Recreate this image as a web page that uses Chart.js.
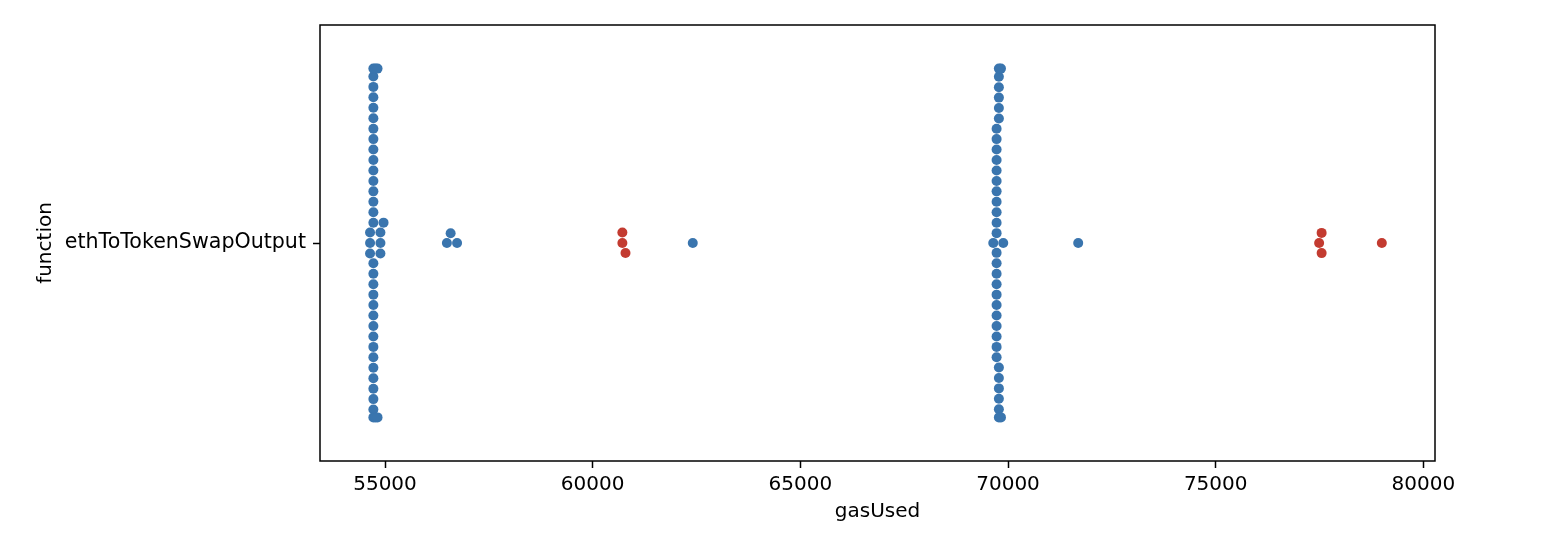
<!DOCTYPE html>
<html>
<head>
<meta charset="utf-8">
<script src="https://cdn.jsdelivr.net/npm/chart.js"></script>
<style>
  html, body { margin: 0; padding: 0; background: #ffffff; }
  #wrap { width: 1550px; height: 542px; position: relative; }
</style>
</head>
<body>
<div id="wrap"><canvas id="c"></canvas></div>
<script>
// ---- data ----
const categories = ['ethToTokenSwapOutput'];
const xTicks = [55000, 60000, 65000, 70000, 75000, 80000];
const xLabel = 'gasUsed';
const yLabel = 'function';

// gasUsed values drawn in blue
const blueGas = [
  54640, 54640, 54640,
  54720, 54720, 54720, 54720, 54720, 54720, 54720, 54720,
  54720, 54720, 54720, 54720, 54720, 54720, 54720, 54720,
  54720, 54720, 54720, 54720, 54720, 54720, 54720, 54720,
  54720, 54720, 54720, 54720, 54720, 54720, 54720, 54720,
  54770, 54770, 54820, 54820,
  54890, 54890, 54890,
  54965,
  56490, 56580, 56735,
  62410,
  69645,
  69725, 69725, 69725, 69725, 69725, 69725, 69725, 69725, 69725, 69725, 69725,
  69725, 69725, 69725, 69725, 69725, 69725, 69725, 69725, 69725, 69725, 69725,
  69780, 69780, 69780, 69780, 69780, 69780,
  69780, 69780, 69780, 69780, 69780, 69780,
  69830, 69830,
  69885,
  71690
];
// gasUsed values drawn in red
const redGas = [60715, 60715, 60790, 77490, 77550, 77550, 79000];

const BLUE = '#3a75ae';
const RED = '#c33b30';
const FONT = "'DejaVu Sans', sans-serif";

// ---- beeswarm (seaborn-style) ----
function beeswarm(items, d) {
  const pts = items.slice().sort((a, b) => a.px - b.px);
  const placed = [];
  for (const p of pts) {
    const nb = placed.filter(q => Math.abs(p.px - q.px) < d);
    let cands = [0];
    let upFirst = true;
    for (const q of nb) {
      const dv = p.px - q.px;
      const o = Math.sqrt(Math.max(d * d - dv * dv, 0)) * 1.05;
      const up = q.off - o, down = q.off + o;
      if (upFirst) cands.push(up, down); else cands.push(down, up);
      upFirst = !upFirst;
    }
    const sorted = cands.map((c, i) => ({ c, i }))
      .sort((a, b) => (Math.abs(a.c) - Math.abs(b.c)) || (a.i - b.i));
    let chosen = sorted[sorted.length - 1].c;
    for (const { c } of sorted) {
      if (nb.every(q => (q.px - p.px) ** 2 + (q.off - c) ** 2 >= d * d - 1e-6)) { chosen = c; break; }
    }
    p.off = chosen;
    placed.push(p);
  }
  return placed;
}

const framePlugin = {
  id: 'frame',
  afterDatasetsDraw(chart) {
    const { ctx, chartArea: a } = chart;
    ctx.save();
    ctx.strokeStyle = '#000';
    ctx.lineWidth = 1.5;
    ctx.strokeRect(a.left, a.top, a.right - a.left, a.bottom - a.top);
    ctx.restore();
  }
};

const chart = new Chart(document.getElementById('c'), {
  type: 'scatter',
  data: {
    datasets: [
      { label: 'blue', data: blueGas.map(v => ({ x: v, y: 0 })), backgroundColor: BLUE, borderWidth: 0, pointRadius: 5, pointHoverRadius: 5 },
      { label: 'red', data: redGas.map(v => ({ x: v, y: 0 })), backgroundColor: RED, borderWidth: 0, pointRadius: 5, pointHoverRadius: 5 }
    ]
  },
  options: {
    responsive: true,
    maintainAspectRatio: false,
    animation: false,
    devicePixelRatio: 1,
    layout: { padding: { left: 0, right: 115, top: 25, bottom: 0 }, autoPadding: false },
    plugins: { legend: { display: false }, tooltip: { enabled: false } },
    scales: {
      x: {
        type: 'linear',
        position: 'bottom',
        min: 53435,
        max: 80280,
        afterBuildTicks: s => { s.ticks = xTicks.map(v => ({ value: v })); },
        afterFit: s => { s.height = 81; },
        ticks: { callback: v => String(v), font: { family: FONT, size: 20 }, color: '#000', padding: 5, maxRotation: 0, autoSkip: false },
        grid: { drawOnChartArea: false, drawTicks: true, tickLength: 7, tickColor: '#000', tickWidth: 1.5 },
        border: { display: false },
        title: { display: true, text: xLabel, font: { family: FONT, size: 20 }, color: '#000', padding: { top: 0, bottom: 18 } }
      },
      y: {
        type: 'linear',
        position: 'left',
        reverse: true,
        min: -0.5,
        max: categories.length - 0.5,
        afterBuildTicks: s => { s.ticks = categories.map((c, i) => ({ value: i })); },
        afterFit: s => { s.width = 320; },
        ticks: { callback: v => categories[v] ?? '', font: { family: FONT, size: 20.6 }, color: '#000', padding: 7, autoSkip: false },
        grid: { drawOnChartArea: false, drawTicks: true, tickLength: 7, tickColor: '#000', tickWidth: 1.5 },
        border: { display: false },
        title: { display: true, text: yLabel, font: { family: FONT, size: 20 }, color: '#000', padding: { top: 34, bottom: 0 } }
      }
    }
  },
  plugins: [framePlugin]
});

// compute swarm offsets in pixel space via the chart's scales
(function applySwarm() {
  const xs = chart.scales.x, ys = chart.scales.y;
  const d = 9.95;
  const pxPerUnit = Math.abs(ys.getPixelForValue(1) - ys.getPixelForValue(0));
  const half = 0.4; // swarm half-width in category units
  const items = [];
  chart.data.datasets.forEach((ds, di) => {
    ds.data.forEach((pt, pi) => items.push({ di, pi, px: xs.getPixelForValue(pt.x) }));
  });
  const placed = beeswarm(items, d);
  placed.forEach(p => {
    let off = p.off / pxPerUnit;
    off = Math.max(-half, Math.min(half, off));
    chart.data.datasets[p.di].data[p.pi].y = 0 + off;
  });
  chart.update('none');
})();
</script>
</body>
</html>
